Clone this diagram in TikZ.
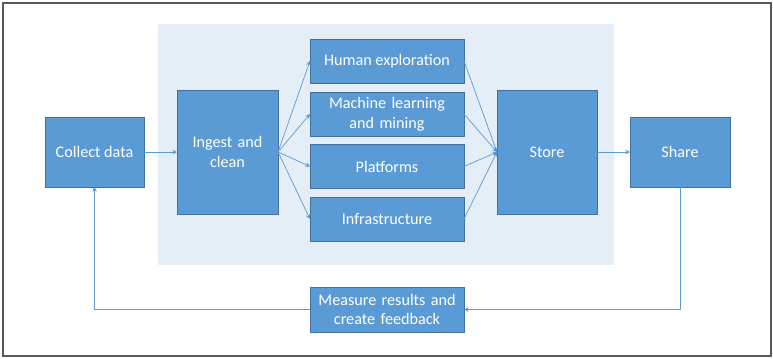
\documentclass[tikz,border=0pt]{standalone}
\usepackage{fontspec}
\setmainfont{Carlito}
\usepackage{xcolor}
\usetikzlibrary{arrows.meta, positioning, calc}
\definecolor{BoxBlue}{RGB}{91, 155, 213}
\definecolor{BoxEdge}{RGB}{65, 113, 156}
\definecolor{Panel}{RGB}{229, 237, 246}
\definecolor{Frame}{RGB}{90, 90, 90}

\begin{document}
\begin{tikzpicture}[
        x=0.03cm, y=-0.03cm,
        every node/.style={rectangle, text centered, inner sep=0pt, outer sep=0pt, text=white,
            font=\fontsize{13.8}{16.8}\selectfont},
        box/.style={fill=BoxBlue, draw=BoxEdge, line width=0.6pt},
        flow/.style={-{Stealth[length=4pt, width=4pt]}, draw=BoxBlue, line width=0.6pt}
    ]
        \useasboundingbox (0, 0) rectangle (773, 358);
        % Frame and panel
        \draw[Frame, line width=1pt] (3, 3) rectangle (771, 356);
        \fill[Panel] (158, 24) rectangle (614, 265);

        % Collect data
        \node[box, minimum width=2.97cm, minimum height=2.1cm] (collect) at (94.5, 152) {Collect data};

        % Ingest and clean
        \node[box, minimum width=3.03cm, minimum height=3.72cm, text width=2.6cm] (ingest) at (227.5, 152) {Ingest and\\clean};

        % Analysis steps
        \node[box, minimum width=4.62cm, minimum height=1.32cm] (human) at (387, 61) {Human exploration};
        \node[box, minimum width=4.62cm, minimum height=1.32cm, text width=4.2cm] (mining) at (387, 114) {Machine learning\\and mining};
        \node[box, minimum width=4.62cm, minimum height=1.32cm] (platforms) at (387, 166.5) {Platforms};
        \node[box, minimum width=4.62cm, minimum height=1.32cm] (infra) at (387, 219) {Infrastructure};

        % Store and Share
        \node[box, minimum width=3cm, minimum height=3.72cm] (store) at (547, 152) {Store};
        \node[box, minimum width=3cm, minimum height=2.1cm] (share) at (680, 152) {Share};

        % Feedback
        \node[box, minimum width=4.62cm, minimum height=1.35cm, text width=4.2cm] (measure) at (387, 309.5) {Measure results and\\create feedback};

        % Arrows
        \draw[flow] (collect) -- (ingest);
        \draw[flow] (ingest.east) -- (human.west);
        \draw[flow] (ingest.east) -- (mining.west);
        \draw[flow] (ingest.east) -- (platforms.west);
        \draw[flow] (ingest.east) -- (infra.west);
        \draw[flow] (human.east) -- (store.west);
        \draw[flow] (mining.east) -- (store.west);
        \draw[flow] (platforms.east) -- (store.west);
        \draw[flow] (infra.east) -- (store.west);
        \draw[flow] (store) -- (share);
        \draw[flow] (share.south) |- (measure.east);
        \draw[flow] (measure.west) -| (collect.south);
    \end{tikzpicture}
\end{document}
